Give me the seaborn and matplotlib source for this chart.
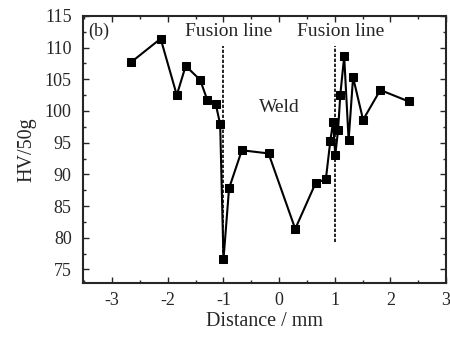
import numpy as np
import pandas as pd
import matplotlib
matplotlib.use('Agg')
import matplotlib.pyplot as plt
import seaborn as sns
from matplotlib.ticker import MultipleLocator

# Hardness profile across the weld
distance = [-2.66, -2.13, -1.84, -1.68, -1.42, -1.29, -1.14, -1.06, -1.0, -0.90,
            -0.67, -0.19, 0.29, 0.66, 0.84, 0.92, 0.97, 1.01, 1.06, 1.10,
            1.17, 1.25, 1.33, 1.51, 1.82, 2.33]
hardness = [107.7, 111.4, 102.5, 107.1, 104.9, 101.7, 101.1, 97.9, 76.6, 87.8,
            93.8, 93.3, 81.4, 88.7, 89.2, 95.2, 98.3, 93.0, 97.0, 102.5,
            108.6, 95.4, 105.3, 98.6, 103.3, 101.5]

fusion_x = [-1.0, 1.0]
fusion_top = [110.2, 110.2]
fusion_bottom = [76.0, 79.4]

df = pd.DataFrame({'Distance': distance, 'HV': hardness})

sns.set_style('ticks')
plt.rcParams['font.family'] = ['Liberation Serif', 'DejaVu Serif']
plt.rcParams['axes.unicode_minus'] = False

fig = plt.figure(figsize=(4.5, 3.37), dpi=100)
ax = fig.add_axes([0.184, 0.159, 0.807, 0.794])

sns.lineplot(data=df, x='Distance', y='HV', ax=ax, sort=False, color='black',
             linewidth=1.5, marker='s', markersize=5.5, markeredgecolor='black',
             markerfacecolor='black')

for xv, top, bot in zip(fusion_x, fusion_top, fusion_bottom):
    ax.vlines(xv, bot, top, colors='black', linestyles=(0, (2, 1)), linewidth=1.2)

ax.text(-0.9, 112.6, 'Fusion line', ha='center', va='center', fontsize=14)
ax.text(1.1, 112.6, 'Fusion line', ha='center', va='center', fontsize=14)
ax.text(0.0, 100.6, 'Weld', ha='center', va='center', fontsize=14)
ax.text(-3.44, 112.6, '(b)', ha='left', va='center', fontsize=13)

ax.set_xlim(-3.53, 3.0)
ax.set_ylim(72.8, 115)
ax.xaxis.set_major_locator(MultipleLocator(1))
ax.xaxis.set_minor_locator(MultipleLocator(0.5))
ax.yaxis.set_major_locator(MultipleLocator(5))
ax.yaxis.set_minor_locator(MultipleLocator(2.5))
ax.tick_params(which='both', direction='in', top=True, right=True, labelsize=13)
ax.tick_params(which='major', length=4, width=1)
ax.tick_params(which='minor', length=2, width=1)
ax.tick_params(axis='y', pad=8)
ax.tick_params(axis='x', pad=6)
for s in ax.spines.values():
    s.set_linewidth(1.5)
    s.set_visible(True)

ax.set_xlabel('Distance / mm', fontsize=14.5, labelpad=2)
ax.set_ylabel('HV/50g', fontsize=14.5, labelpad=6)

plt.savefig('out.png', dpi=100)
